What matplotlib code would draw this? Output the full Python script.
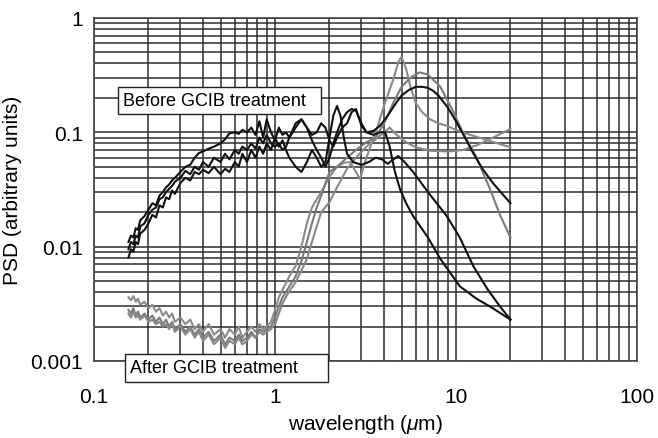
import matplotlib
matplotlib.use('Agg')
import matplotlib.pyplot as plt

plt.rcParams['font.family'] = ['Liberation Sans', 'DejaVu Sans']
plt.rcParams['mathtext.fontset'] = 'custom'
plt.rcParams['mathtext.it'] = 'Liberation Sans:italic'
plt.rcParams['mathtext.rm'] = 'Liberation Sans'

# shared wavelength grid for the noisy short-wavelength part (um)
wl_low = [0.155, 0.16, 0.165, 0.17, 0.175, 0.18, 0.19, 0.2, 0.21, 0.22, 0.23, 0.24,
          0.25, 0.26, 0.27, 0.28, 0.3, 0.32, 0.34, 0.36, 0.38, 0.4, 0.43, 0.46, 0.5,
          0.53, 0.56, 0.6, 0.63, 0.66, 0.7, 0.74, 0.78, 0.82, 0.86, 0.9, 0.95, 1.0]

# before GCIB treatment (black)
before1_low = [0.011, 0.0125, 0.012, 0.0145, 0.014, 0.017, 0.0185, 0.021, 0.024, 0.023,
               0.028, 0.03, 0.033, 0.035, 0.038, 0.04, 0.045, 0.05, 0.052, 0.06, 0.066,
               0.068, 0.072, 0.075, 0.08, 0.087, 0.098, 0.1, 0.097, 0.105, 0.1, 0.11,
               0.095, 0.125, 0.09, 0.13, 0.1, 0.085]
before1_wl = [1.05, 1.1, 1.15, 1.2, 1.3, 1.4, 1.5, 1.6, 1.7, 1.8, 1.9, 2.0, 2.1, 2.2,
              2.35, 2.5, 2.65, 2.8, 3.0, 3.2, 3.5, 3.8, 4.2, 4.6, 5.0, 5.5, 6.0, 6.5,
              7.0, 7.5, 8.0, 9.0, 10, 11, 12.5, 14, 16, 18, 20]
before1_high = [0.11, 0.095, 0.1, 0.09, 0.11, 0.13, 0.11, 0.095, 0.1, 0.12, 0.11, 0.085,
                0.075, 0.09, 0.11, 0.12, 0.15, 0.16, 0.115, 0.1, 0.103, 0.114, 0.14,
                0.175, 0.21, 0.235, 0.25, 0.25, 0.245, 0.23, 0.21, 0.165, 0.125, 0.095,
                0.065, 0.048, 0.036, 0.029, 0.024]

before2_low = [0.008, 0.0095, 0.009, 0.011, 0.0105, 0.013, 0.014, 0.016, 0.019, 0.018,
               0.023, 0.022, 0.027, 0.026, 0.031, 0.029, 0.036, 0.04, 0.038, 0.045, 0.043,
               0.047, 0.044, 0.05, 0.043, 0.048, 0.045, 0.055, 0.05, 0.065, 0.055, 0.07,
               0.06, 0.075, 0.065, 0.08, 0.07, 0.09]
before2_wl = [1.05, 1.1, 1.15, 1.2, 1.3, 1.4, 1.5, 1.6, 1.7, 1.8, 1.9, 2.0, 2.1, 2.2,
              2.3, 2.4, 2.5, 2.7, 3.0, 3.3, 3.6, 3.9, 4.2, 4.5, 4.8, 5.2, 5.8, 7.0, 8.9,
              10.5, 12.5, 15, 17.5, 20]
before2_high = [0.075, 0.085, 0.07, 0.06, 0.05, 0.045, 0.055, 0.07, 0.06, 0.05, 0.055,
                0.09, 0.14, 0.17, 0.14, 0.09, 0.065, 0.055, 0.052, 0.055, 0.06, 0.058,
                0.053, 0.058, 0.062, 0.055, 0.045, 0.03, 0.0185, 0.012, 0.0067, 0.0042,
                0.003, 0.0023]

before3_low = [0.0095, 0.011, 0.0105, 0.0125, 0.012, 0.015, 0.016, 0.019, 0.021, 0.022,
               0.026, 0.027, 0.03, 0.032, 0.034, 0.037, 0.04, 0.046, 0.043, 0.05, 0.047,
               0.055, 0.05, 0.06, 0.055, 0.065, 0.058, 0.07, 0.065, 0.075, 0.07, 0.08,
               0.072, 0.09, 0.08, 0.095, 0.08, 0.075]
before3_wl = [1.05, 1.1, 1.15, 1.2, 1.3, 1.4, 1.5, 1.6, 1.7, 1.8, 1.9, 2.0, 2.1, 2.2,
              2.35, 2.5, 2.65, 2.8, 3.0, 3.2, 3.5, 3.8, 4.06, 4.3, 4.6, 4.9, 5.3, 5.8,
              7.0, 8.2, 10.5, 13, 15.4, 20]
before3_high = [0.08, 0.07, 0.075, 0.09, 0.12, 0.13, 0.11, 0.085, 0.07, 0.06, 0.05,
                0.06, 0.08, 0.1, 0.13, 0.15, 0.16, 0.155, 0.12, 0.1, 0.095, 0.1, 0.1,
                0.075, 0.045, 0.032, 0.024, 0.0185, 0.012, 0.0078, 0.0045, 0.0035,
                0.003, 0.0023]

# after GCIB treatment (grey)
after_wl = [1.05, 1.1, 1.2, 1.3, 1.4, 1.5, 1.6, 1.7, 1.8, 2.0, 2.2, 2.4, 2.6, 2.8,
            2.95, 3.2, 3.6, 4.0, 4.5, 4.8, 5.0, 5.3, 5.6, 6.0, 6.5, 7.2, 8.0, 8.9,
            10, 12, 14, 17, 20]
after1_low = [0.0036, 0.0034, 0.0037, 0.0033, 0.0035, 0.0031, 0.0033, 0.0029, 0.0031,
              0.0027, 0.0029, 0.0025, 0.0027, 0.0024, 0.0026, 0.0022, 0.0024, 0.0021,
              0.0023, 0.0019, 0.0021, 0.0018, 0.0021, 0.0017, 0.0019, 0.0016, 0.0019,
              0.0017, 0.002, 0.0016, 0.0018, 0.002, 0.0018, 0.0021, 0.0019, 0.002,
              0.0022, 0.0028]
after1_high = [0.0036, 0.0042, 0.0055, 0.0068, 0.01, 0.016, 0.022, 0.026, 0.03, 0.041,
               0.05, 0.054, 0.055, 0.045, 0.039, 0.06, 0.1, 0.17, 0.29, 0.41, 0.46,
               0.36, 0.25, 0.18, 0.15, 0.13, 0.12, 0.114, 0.105, 0.095, 0.088, 0.08,
               0.074]

after2_low = [0.0028, 0.0026, 0.0029, 0.0025, 0.0027, 0.0024, 0.0026, 0.0023, 0.0025,
              0.0022, 0.0024, 0.0021, 0.0023, 0.002, 0.0022, 0.0019, 0.0021, 0.0018,
              0.002, 0.0017, 0.0019, 0.0016, 0.0018, 0.0015, 0.0017, 0.0014, 0.0016,
              0.0015, 0.0017, 0.0015, 0.0016, 0.0018, 0.0016, 0.0019, 0.0018, 0.0019,
              0.002, 0.0024]
after2_wl = [1.05, 1.1, 1.2, 1.3, 1.4, 1.5, 1.6, 1.7, 1.8, 2.0, 2.2, 2.5, 2.8, 3.2,
             3.6, 4.0, 4.5, 5.0, 5.6, 6.3, 7.0, 8.2, 9.5, 10.9, 13, 15.4, 17.5, 20]
after2_high = [0.003, 0.0036, 0.0045, 0.0055, 0.0075, 0.011, 0.016, 0.022, 0.028,
               0.045, 0.05, 0.06, 0.07, 0.082, 0.09, 0.12, 0.18, 0.25, 0.3, 0.335,
               0.32, 0.25, 0.16, 0.1, 0.06, 0.032, 0.019, 0.012]

after3_low = [0.0026, 0.0024, 0.0027, 0.0024, 0.0025, 0.0023, 0.0025, 0.0022, 0.0023,
              0.0021, 0.0022, 0.002, 0.0021, 0.0019, 0.0021, 0.0018, 0.002, 0.0017,
              0.0019, 0.0016, 0.0018, 0.0015, 0.0017, 0.0014, 0.0016, 0.0013, 0.0015,
              0.0014, 0.0016, 0.0014, 0.0015, 0.0017, 0.0016, 0.0018, 0.0017, 0.0018,
              0.0019, 0.0021]
after3_wl = [1.05, 1.1, 1.2, 1.3, 1.4, 1.5, 1.6, 1.7, 1.8, 2.0, 2.2, 2.5, 2.8, 3.2,
             3.6, 4.0, 4.3, 4.7, 5.3, 6.0, 7.2, 9.0, 10.9, 13, 16, 20]
after3_high = [0.0026, 0.0032, 0.0041, 0.0049, 0.0062, 0.0078, 0.011, 0.015, 0.02,
               0.0245, 0.033, 0.048, 0.06, 0.075, 0.087, 0.1, 0.11, 0.095, 0.082,
               0.074, 0.069, 0.068, 0.07, 0.077, 0.09, 0.107]

x_ticks = [0.1, 1, 10, 100]
x_ticklabels = ['0.1', '1', '10', '100']
y_ticks = [0.001, 0.01, 0.1, 1]
y_ticklabels = ['0.001', '0.01', '0.1', '1']

fig = plt.figure(figsize=(6.58, 4.39), dpi=100)
ax = fig.add_axes([94 / 658, 1 - 362 / 439, 543 / 658, 343 / 439])

grey_curves = [(after1_low, after_wl, after1_high, '#8a8a8a'),
               (after2_low, after2_wl, after2_high, '#7a7a7a'),
               (after3_low, after3_wl, after3_high, '#888888')]
black_curves = [(before1_low, before1_wl, before1_high),
                (before2_low, before2_wl, before2_high),
                (before3_low, before3_wl, before3_high)]

for low, wl_hi, high, col in grey_curves:
    ax.plot(wl_low + wl_hi, low + high, color=col, lw=1.5)
for low, wl_hi, high in black_curves:
    ax.plot(wl_low + wl_hi, low + high, color='#111111', lw=1.5)

ax.set_xscale('log')
ax.set_yscale('log')
ax.set_xlim(0.1, 100)
ax.set_ylim(0.001, 1)
ax.set_xticks(x_ticks)
ax.set_xticklabels(x_ticklabels)
ax.set_yticks(y_ticks)
ax.set_yticklabels(y_ticklabels)
ax.grid(True, which='both', color='#2e2e2e', lw=1.1)
ax.set_axisbelow(True)
ax.tick_params(which='both', length=0, labelsize=15)
ax.tick_params(axis='x', pad=19)
ax.tick_params(axis='y', pad=8)
for s in ax.spines.values():
    s.set_color('#444444')
    s.set_linewidth(1.2)

ax.set_xlabel(r'wavelength ($\mu$m)', fontsize=15, labelpad=4)
ax.set_ylabel('PSD (arbitrary units)', fontsize=15, labelpad=6)

ax.text(0.1446, 0.19, 'Before GCIB treatment  ', fontsize=13, va='center', ha='left',
        bbox=dict(boxstyle='square,pad=0.3', fc='white', ec='#222222', lw=1))
ax.text(0.158, 0.00087, 'After GCIB treatment     ', fontsize=13, va='center', ha='left',
        clip_on=False,
        bbox=dict(boxstyle='square,pad=0.3', fc='white', ec='#222222', lw=1))

fig.savefig('out.png', dpi=100)
